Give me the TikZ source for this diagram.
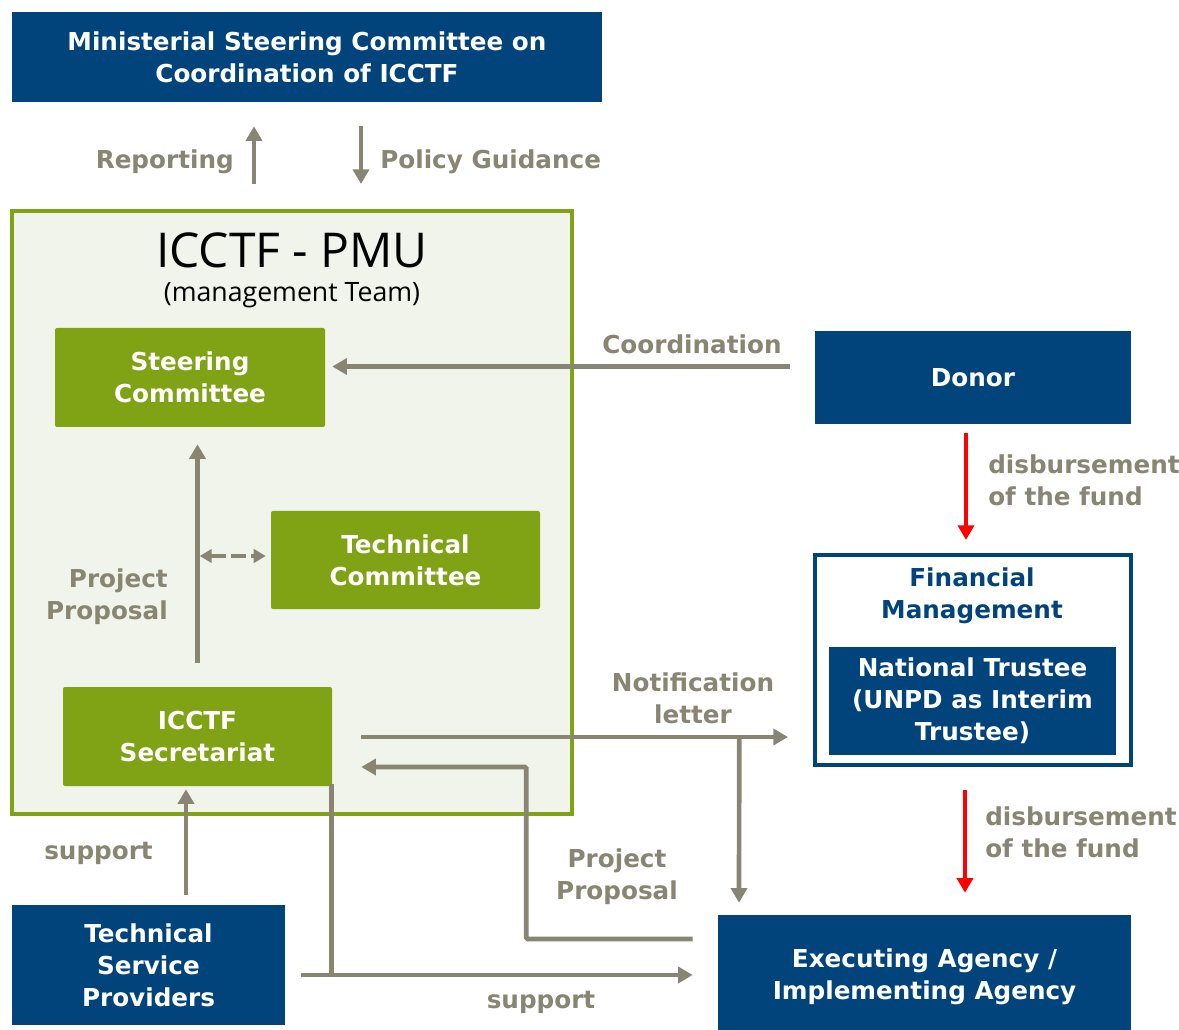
\documentclass[tikz,border=0pt]{standalone}
\usepackage{fontspec}
\setmainfont{DejaVu Sans}
\newfontfamily\titlefont{Open Sans}
\usetikzlibrary{arrows.meta,calc}

\definecolor{iblue}{RGB}{0,68,123}
\definecolor{igreen}{RGB}{128,163,21}
\definecolor{pmufill}{RGB}{241,244,234}
\definecolor{igray}{RGB}{136,133,114}

\tikzset{
    boxfont/.style={font=\bfseries\fontsize{18.5}{24}\selectfont},
    bluebox/.style={boxfont, fill=iblue, text=white, align=center, inner sep=0pt},
    greenbox/.style={boxfont, fill=igreen, rounded corners=1.5pt, text=white, align=center, inner sep=0pt},
    lbl/.style={boxfont, text=igray, inner sep=0pt},
    link/.style={draw=igray, line width=3.5pt},
    flow/.style={link, -{Triangle[length=11pt,width=12pt]}},
    fund/.style={draw=red, line width=3pt, -{Triangle[length=11pt,width=12pt]}}
}

\begin{document}
\begin{tikzpicture}[x=0.75pt,y=-0.75pt]
        \useasboundingbox (0,0) rectangle (1179,1030);
        \node[bluebox, minimum width=442.5pt, minimum height=67.5pt] (msc) at (307,57) {Ministerial Steering Committee on\\Coordination of ICCTF};
        \node[draw=igreen, line width=3pt, fill=pmufill, minimum width=420pt, minimum height=452.25pt] (pmu) at (292,512.5) {};
        \node[font=\titlefont\fontsize{36}{40}\selectfont, inner sep=0pt] (title) at (292,250) {ICCTF - PMU};
        \node[font=\titlefont\fontsize{20}{22}\selectfont, inner sep=0pt] (subtitle) at (292,295) {(management Team)};
        \node[greenbox, minimum width=202.5pt, minimum height=74.25pt] (steer) at (190,377.5) {Steering\\Committee};
        \node[greenbox, minimum width=201.75pt, minimum height=73.5pt] (tech) at (405.5,560) {Technical\\Committee};
        \node[greenbox, minimum width=201.75pt, minimum height=74.25pt] (sec) at (197.5,736.5) {ICCTF\\Secretariat};
        \node[bluebox, minimum width=237pt, minimum height=69.75pt] (donor) at (973,377.5) {Donor};
        \node[draw=iblue, line width=3pt, fill=white, minimum width=237pt, minimum height=157.5pt] (fin) at (973,660) {};
        \node[boxfont, text=iblue, align=center, inner sep=0pt] (fintitle) at (972,596) {Financial\\Management};
        \node[bluebox, minimum width=215.25pt, minimum height=81pt] (trustee) at (972.5,701) {National Trustee\\(UNPD as Interim\\Trustee)};
        \node[bluebox, minimum width=309.75pt, minimum height=93pt] (exec) at (924.5,977) {Executing Agency /\\Implementing Agency};
        \node[bluebox, minimum width=204.75pt, minimum height=90pt] (tsp) at (148.5,965) {Technical\\Service\\Providers};

        \node[lbl, anchor=east] (reportlbl) at (234,162) {Reporting};
        \node[lbl, anchor=west] (policylbl) at (380,162) {Policy Guidance};
        \node[lbl] (coordlbl) at (692,344) {Coordination};
        \node[lbl, anchor=west, align=left] (disblbl) at (988,480) {disbursement\\of the fund};
        \node[lbl, anchor=west, align=left] (disblblb) at (985,832) {disbursement\\of the fund};
        \node[lbl, anchor=east, align=right] (proplbl) at (168,597) {Project\\Proposal};
        \node[lbl, align=center] (notelbl) at (693,698) {Notification\\letter};
        \node[lbl, align=center] (proplblb) at (617,877) {Project\\Proposal};
        \node[lbl, anchor=east] (suplbl) at (153,853) {support};
        \node[lbl] (suplblb) at (541,1002) {support};

        \draw[flow] ($(pmu.north)+(-38,-25)$) -- ($(msc.south)+(-53,24)$);
        \draw[flow] ($(msc.south)+(54,24)$) -- ($(pmu.north)+(69,-25)$);
        \draw[flow] ($(donor.west)+(-25,-11)$) -- ($(steer.east)+(7,-11)$);
        \draw[fund] ($(donor.south)+(-7,9)$) -- ($(fin.north)+(-7,-13)$);
        \draw[fund] ($(fin.south)+(-8,23)$) -- ($(exec.north)+(40.5,-22)$);
        \draw[flow] ($(sec.north)+(0,-24)$) -- ($(steer.south)+(7.5,17)$);
        \draw[link, dash pattern=on 11pt off 4pt, {Triangle[length=9pt,width=10pt]}-{Triangle[length=9pt,width=10pt]}] ($(tech.west)+(-71,-4)$) -- ($(tech.west)+(-5,-4)$);
        \draw[flow] ($(sec.east)+(29,0.5)$) -- ($(fin.west)+(-25,77)$);
        \coordinate (branch) at ($(sec.east)+(407,0.5)$);
        \draw[flow] (branch) -- ($(exec.north)+(-185.5,-12)$);
        \draw[flow, rounded corners=1pt] ($(exec.west)+(-25,-38)$) -| ($(sec.east)+(194,30.5)$) -- ($(sec.east)+(29,30.5)$);
        \draw[flow] ($(tsp.north)+(37.5,-10)$) -- ($(sec.south)+(-11.5,3)$);
        \draw[flow] ($(tsp.east)+(16,10)$) -- ($(exec.west)+(-25,-2)$);
        \draw[link] ($(sec.south east)+(-1,-2)$) -- ($(tsp.east)+(46,10)$);
\end{tikzpicture}
\end{document}
